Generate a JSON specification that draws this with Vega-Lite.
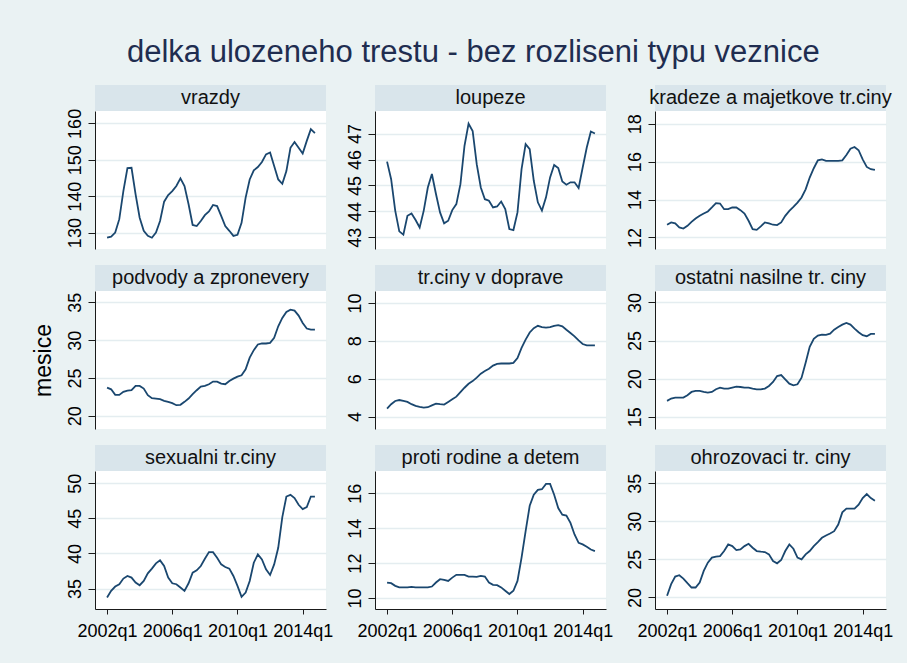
{
"$schema": "https://vega.github.io/schema/vega-lite/v6.json",
"background": "#EAF2F3",
"padding": {"left": 32, "top": 37, "right": 14, "bottom": 23},
"title": {"text": "delka ulozeneho trestu - bez rozliseni typu veznice", "font": "Liberation Sans", "fontSize": 31, "fontWeight": "normal", "color": "#1F2D50", "anchor": "middle", "offset": 16, "dx": 11},
"datasets": {"d": [
{"s":"vrazdy","t":2002,"v":128.6},{"s":"vrazdy","t":2002.25,"v":128.9},{"s":"vrazdy","t":2002.5,"v":130},{"s":"vrazdy","t":2002.75,"v":133.7},{"s":"vrazdy","t":2003,"v":141.4},{"s":"vrazdy","t":2003.25,"v":147.7},{"s":"vrazdy","t":2003.5,"v":147.8},{"s":"vrazdy","t":2003.75,"v":140.5},{"s":"vrazdy","t":2004,"v":134.1},{"s":"vrazdy","t":2004.25,"v":130.5},{"s":"vrazdy","t":2004.5,"v":129.1},{"s":"vrazdy","t":2004.75,"v":128.6},{"s":"vrazdy","t":2005,"v":130},{"s":"vrazdy","t":2005.25,"v":133.2},{"s":"vrazdy","t":2005.5,"v":138.5},{"s":"vrazdy","t":2005.75,"v":140.3},{"s":"vrazdy","t":2006,"v":141.4},{"s":"vrazdy","t":2006.25,"v":142.8},{"s":"vrazdy","t":2006.5,"v":144.9},{"s":"vrazdy","t":2006.75,"v":142.8},{"s":"vrazdy","t":2007,"v":137.8},{"s":"vrazdy","t":2007.25,"v":132.1},{"s":"vrazdy","t":2007.5,"v":131.8},{"s":"vrazdy","t":2007.75,"v":133.2},{"s":"vrazdy","t":2008,"v":134.8},{"s":"vrazdy","t":2008.25,"v":135.8},{"s":"vrazdy","t":2008.5,"v":137.6},{"s":"vrazdy","t":2008.75,"v":137.3},{"s":"vrazdy","t":2009,"v":134.6},{"s":"vrazdy","t":2009.25,"v":131.8},{"s":"vrazdy","t":2009.5,"v":130.5},{"s":"vrazdy","t":2009.75,"v":129.1},{"s":"vrazdy","t":2010,"v":129.4},{"s":"vrazdy","t":2010.25,"v":132.7},{"s":"vrazdy","t":2010.5,"v":139.6},{"s":"vrazdy","t":2010.75,"v":144.6},{"s":"vrazdy","t":2011,"v":147.1},{"s":"vrazdy","t":2011.25,"v":148},{"s":"vrazdy","t":2011.5,"v":149.4},{"s":"vrazdy","t":2011.75,"v":151.5},{"s":"vrazdy","t":2012,"v":152},{"s":"vrazdy","t":2012.25,"v":148.3},{"s":"vrazdy","t":2012.5,"v":144.6},{"s":"vrazdy","t":2012.75,"v":143.4},{"s":"vrazdy","t":2013,"v":146.9},{"s":"vrazdy","t":2013.25,"v":153.3},{"s":"vrazdy","t":2013.5,"v":154.9},{"s":"vrazdy","t":2013.75,"v":153.3},{"s":"vrazdy","t":2014,"v":151.7},{"s":"vrazdy","t":2014.25,"v":155.2},{"s":"vrazdy","t":2014.5,"v":158.4},{"s":"vrazdy","t":2014.75,"v":157.3},
{"s":"loupeze","t":2002,"v":45.92},{"s":"loupeze","t":2002.25,"v":45.24},{"s":"loupeze","t":2002.5,"v":44.03},{"s":"loupeze","t":2002.75,"v":43.23},{"s":"loupeze","t":2003,"v":43.1},{"s":"loupeze","t":2003.25,"v":43.83},{"s":"loupeze","t":2003.5,"v":43.92},{"s":"loupeze","t":2003.75,"v":43.67},{"s":"loupeze","t":2004,"v":43.38},{"s":"loupeze","t":2004.25,"v":44.03},{"s":"loupeze","t":2004.5,"v":44.92},{"s":"loupeze","t":2004.75,"v":45.44},{"s":"loupeze","t":2005,"v":44.67},{"s":"loupeze","t":2005.25,"v":43.96},{"s":"loupeze","t":2005.5,"v":43.54},{"s":"loupeze","t":2005.75,"v":43.64},{"s":"loupeze","t":2006,"v":44.05},{"s":"loupeze","t":2006.25,"v":44.28},{"s":"loupeze","t":2006.5,"v":45.05},{"s":"loupeze","t":2006.75,"v":46.53},{"s":"loupeze","t":2007,"v":47.38},{"s":"loupeze","t":2007.25,"v":47.1},{"s":"loupeze","t":2007.5,"v":45.82},{"s":"loupeze","t":2007.75,"v":44.92},{"s":"loupeze","t":2008,"v":44.47},{"s":"loupeze","t":2008.25,"v":44.41},{"s":"loupeze","t":2008.5,"v":44.15},{"s":"loupeze","t":2008.75,"v":44.19},{"s":"loupeze","t":2009,"v":44.38},{"s":"loupeze","t":2009.25,"v":44.09},{"s":"loupeze","t":2009.5,"v":43.32},{"s":"loupeze","t":2009.75,"v":43.28},{"s":"loupeze","t":2010,"v":43.96},{"s":"loupeze","t":2010.25,"v":45.63},{"s":"loupeze","t":2010.5,"v":46.59},{"s":"loupeze","t":2010.75,"v":46.4},{"s":"loupeze","t":2011,"v":45.18},{"s":"loupeze","t":2011.25,"v":44.35},{"s":"loupeze","t":2011.5,"v":44.03},{"s":"loupeze","t":2011.75,"v":44.54},{"s":"loupeze","t":2012,"v":45.31},{"s":"loupeze","t":2012.25,"v":45.79},{"s":"loupeze","t":2012.5,"v":45.67},{"s":"loupeze","t":2012.75,"v":45.15},{"s":"loupeze","t":2013,"v":45.03},{"s":"loupeze","t":2013.25,"v":45.12},{"s":"loupeze","t":2013.5,"v":45.12},{"s":"loupeze","t":2013.75,"v":44.9},{"s":"loupeze","t":2014,"v":45.69},{"s":"loupeze","t":2014.25,"v":46.46},{"s":"loupeze","t":2014.5,"v":47.08},{"s":"loupeze","t":2014.75,"v":47.0},
{"s":"kradeze","t":2002,"v":12.67},{"s":"kradeze","t":2002.25,"v":12.79},{"s":"kradeze","t":2002.5,"v":12.74},{"s":"kradeze","t":2002.75,"v":12.53},{"s":"kradeze","t":2003,"v":12.47},{"s":"kradeze","t":2003.25,"v":12.61},{"s":"kradeze","t":2003.5,"v":12.82},{"s":"kradeze","t":2003.75,"v":13.0},{"s":"kradeze","t":2004,"v":13.14},{"s":"kradeze","t":2004.25,"v":13.26},{"s":"kradeze","t":2004.5,"v":13.37},{"s":"kradeze","t":2004.75,"v":13.58},{"s":"kradeze","t":2005,"v":13.81},{"s":"kradeze","t":2005.25,"v":13.79},{"s":"kradeze","t":2005.5,"v":13.49},{"s":"kradeze","t":2005.75,"v":13.49},{"s":"kradeze","t":2006,"v":13.58},{"s":"kradeze","t":2006.25,"v":13.58},{"s":"kradeze","t":2006.5,"v":13.44},{"s":"kradeze","t":2006.75,"v":13.26},{"s":"kradeze","t":2007,"v":12.88},{"s":"kradeze","t":2007.25,"v":12.44},{"s":"kradeze","t":2007.5,"v":12.4},{"s":"kradeze","t":2007.75,"v":12.58},{"s":"kradeze","t":2008,"v":12.79},{"s":"kradeze","t":2008.25,"v":12.74},{"s":"kradeze","t":2008.5,"v":12.67},{"s":"kradeze","t":2008.75,"v":12.65},{"s":"kradeze","t":2009,"v":12.79},{"s":"kradeze","t":2009.25,"v":13.14},{"s":"kradeze","t":2009.5,"v":13.4},{"s":"kradeze","t":2009.75,"v":13.61},{"s":"kradeze","t":2010,"v":13.84},{"s":"kradeze","t":2010.25,"v":14.11},{"s":"kradeze","t":2010.5,"v":14.54},{"s":"kradeze","t":2010.75,"v":15.16},{"s":"kradeze","t":2011,"v":15.65},{"s":"kradeze","t":2011.25,"v":16.07},{"s":"kradeze","t":2011.5,"v":16.12},{"s":"kradeze","t":2011.75,"v":16.04},{"s":"kradeze","t":2012,"v":16.04},{"s":"kradeze","t":2012.25,"v":16.04},{"s":"kradeze","t":2012.5,"v":16.04},{"s":"kradeze","t":2012.75,"v":16.07},{"s":"kradeze","t":2013,"v":16.35},{"s":"kradeze","t":2013.25,"v":16.68},{"s":"kradeze","t":2013.5,"v":16.77},{"s":"kradeze","t":2013.75,"v":16.6},{"s":"kradeze","t":2014,"v":16.12},{"s":"kradeze","t":2014.25,"v":15.72},{"s":"kradeze","t":2014.5,"v":15.6},{"s":"kradeze","t":2014.75,"v":15.56},
{"s":"podvody","t":2002,"v":23.73},{"s":"podvody","t":2002.25,"v":23.5},{"s":"podvody","t":2002.5,"v":22.76},{"s":"podvody","t":2002.75,"v":22.76},{"s":"podvody","t":2003,"v":23.16},{"s":"podvody","t":2003.25,"v":23.33},{"s":"podvody","t":2003.5,"v":23.38},{"s":"podvody","t":2003.75,"v":23.95},{"s":"podvody","t":2004,"v":23.95},{"s":"podvody","t":2004.25,"v":23.6},{"s":"podvody","t":2004.5,"v":22.72},{"s":"podvody","t":2004.75,"v":22.32},{"s":"podvody","t":2005,"v":22.28},{"s":"podvody","t":2005.25,"v":22.19},{"s":"podvody","t":2005.5,"v":21.97},{"s":"podvody","t":2005.75,"v":21.84},{"s":"podvody","t":2006,"v":21.67},{"s":"podvody","t":2006.25,"v":21.4},{"s":"podvody","t":2006.5,"v":21.45},{"s":"podvody","t":2006.75,"v":21.84},{"s":"podvody","t":2007,"v":22.28},{"s":"podvody","t":2007.25,"v":22.85},{"s":"podvody","t":2007.5,"v":23.38},{"s":"podvody","t":2007.75,"v":23.86},{"s":"podvody","t":2008,"v":23.95},{"s":"podvody","t":2008.25,"v":24.17},{"s":"podvody","t":2008.5,"v":24.52},{"s":"podvody","t":2008.75,"v":24.52},{"s":"podvody","t":2009,"v":24.25},{"s":"podvody","t":2009.25,"v":24.17},{"s":"podvody","t":2009.5,"v":24.6},{"s":"podvody","t":2009.75,"v":24.91},{"s":"podvody","t":2010,"v":25.18},{"s":"podvody","t":2010.25,"v":25.35},{"s":"podvody","t":2010.5,"v":26.14},{"s":"podvody","t":2010.75,"v":27.68},{"s":"podvody","t":2011,"v":28.68},{"s":"podvody","t":2011.25,"v":29.43},{"s":"podvody","t":2011.5,"v":29.56},{"s":"podvody","t":2011.75,"v":29.56},{"s":"podvody","t":2012,"v":29.65},{"s":"podvody","t":2012.25,"v":30.31},{"s":"podvody","t":2012.5,"v":31.84},{"s":"podvody","t":2012.75,"v":32.94},{"s":"podvody","t":2013,"v":33.73},{"s":"podvody","t":2013.25,"v":34.04},{"s":"podvody","t":2013.5,"v":33.9},{"s":"podvody","t":2013.75,"v":33.25},{"s":"podvody","t":2014,"v":32.28},{"s":"podvody","t":2014.25,"v":31.54},{"s":"podvody","t":2014.5,"v":31.4},{"s":"podvody","t":2014.75,"v":31.4},
{"s":"doprave","t":2002,"v":4.42},{"s":"doprave","t":2002.25,"v":4.65},{"s":"doprave","t":2002.5,"v":4.82},{"s":"doprave","t":2002.75,"v":4.87},{"s":"doprave","t":2003,"v":4.82},{"s":"doprave","t":2003.25,"v":4.77},{"s":"doprave","t":2003.5,"v":4.65},{"s":"doprave","t":2003.75,"v":4.56},{"s":"doprave","t":2004,"v":4.51},{"s":"doprave","t":2004.25,"v":4.47},{"s":"doprave","t":2004.5,"v":4.49},{"s":"doprave","t":2004.75,"v":4.59},{"s":"doprave","t":2005,"v":4.68},{"s":"doprave","t":2005.25,"v":4.65},{"s":"doprave","t":2005.5,"v":4.63},{"s":"doprave","t":2005.75,"v":4.77},{"s":"doprave","t":2006,"v":4.91},{"s":"doprave","t":2006.25,"v":5.05},{"s":"doprave","t":2006.5,"v":5.29},{"s":"doprave","t":2006.75,"v":5.52},{"s":"doprave","t":2007,"v":5.73},{"s":"doprave","t":2007.25,"v":5.87},{"s":"doprave","t":2007.5,"v":6.05},{"s":"doprave","t":2007.75,"v":6.26},{"s":"doprave","t":2008,"v":6.4},{"s":"doprave","t":2008.25,"v":6.52},{"s":"doprave","t":2008.5,"v":6.69},{"s":"doprave","t":2008.75,"v":6.78},{"s":"doprave","t":2009,"v":6.8},{"s":"doprave","t":2009.25,"v":6.8},{"s":"doprave","t":2009.5,"v":6.8},{"s":"doprave","t":2009.75,"v":6.83},{"s":"doprave","t":2010,"v":7.09},{"s":"doprave","t":2010.25,"v":7.62},{"s":"doprave","t":2010.5,"v":8.06},{"s":"doprave","t":2010.75,"v":8.44},{"s":"doprave","t":2011,"v":8.67},{"s":"doprave","t":2011.25,"v":8.79},{"s":"doprave","t":2011.5,"v":8.72},{"s":"doprave","t":2011.75,"v":8.7},{"s":"doprave","t":2012,"v":8.72},{"s":"doprave","t":2012.25,"v":8.79},{"s":"doprave","t":2012.5,"v":8.83},{"s":"doprave","t":2012.75,"v":8.76},{"s":"doprave","t":2013,"v":8.58},{"s":"doprave","t":2013.25,"v":8.41},{"s":"doprave","t":2013.5,"v":8.23},{"s":"doprave","t":2013.75,"v":8.02},{"s":"doprave","t":2014,"v":7.83},{"s":"doprave","t":2014.25,"v":7.76},{"s":"doprave","t":2014.5,"v":7.76},{"s":"doprave","t":2014.75,"v":7.76},
{"s":"ostatni","t":2002,"v":17.09},{"s":"ostatni","t":2002.25,"v":17.39},{"s":"ostatni","t":2002.5,"v":17.52},{"s":"ostatni","t":2002.75,"v":17.52},{"s":"ostatni","t":2003,"v":17.52},{"s":"ostatni","t":2003.25,"v":17.83},{"s":"ostatni","t":2003.5,"v":18.26},{"s":"ostatni","t":2003.75,"v":18.39},{"s":"ostatni","t":2004,"v":18.39},{"s":"ostatni","t":2004.25,"v":18.26},{"s":"ostatni","t":2004.5,"v":18.17},{"s":"ostatni","t":2004.75,"v":18.26},{"s":"ostatni","t":2005,"v":18.61},{"s":"ostatni","t":2005.25,"v":18.83},{"s":"ostatni","t":2005.5,"v":18.7},{"s":"ostatni","t":2005.75,"v":18.7},{"s":"ostatni","t":2006,"v":18.83},{"s":"ostatni","t":2006.25,"v":18.96},{"s":"ostatni","t":2006.5,"v":18.91},{"s":"ostatni","t":2006.75,"v":18.83},{"s":"ostatni","t":2007,"v":18.83},{"s":"ostatni","t":2007.25,"v":18.7},{"s":"ostatni","t":2007.5,"v":18.61},{"s":"ostatni","t":2007.75,"v":18.61},{"s":"ostatni","t":2008,"v":18.7},{"s":"ostatni","t":2008.25,"v":19.04},{"s":"ostatni","t":2008.5,"v":19.57},{"s":"ostatni","t":2008.75,"v":20.35},{"s":"ostatni","t":2009,"v":20.48},{"s":"ostatni","t":2009.25,"v":19.91},{"s":"ostatni","t":2009.5,"v":19.35},{"s":"ostatni","t":2009.75,"v":19.13},{"s":"ostatni","t":2010,"v":19.26},{"s":"ostatni","t":2010.25,"v":20.13},{"s":"ostatni","t":2010.5,"v":22.09},{"s":"ostatni","t":2010.75,"v":24.17},{"s":"ostatni","t":2011,"v":25.22},{"s":"ostatni","t":2011.25,"v":25.65},{"s":"ostatni","t":2011.5,"v":25.78},{"s":"ostatni","t":2011.75,"v":25.74},{"s":"ostatni","t":2012,"v":25.91},{"s":"ostatni","t":2012.25,"v":26.43},{"s":"ostatni","t":2012.5,"v":26.78},{"s":"ostatni","t":2012.75,"v":27.09},{"s":"ostatni","t":2013,"v":27.3},{"s":"ostatni","t":2013.25,"v":27.09},{"s":"ostatni","t":2013.5,"v":26.57},{"s":"ostatni","t":2013.75,"v":26.09},{"s":"ostatni","t":2014,"v":25.7},{"s":"ostatni","t":2014.25,"v":25.57},{"s":"ostatni","t":2014.5,"v":25.87},{"s":"ostatni","t":2014.75,"v":25.87},
{"s":"sexualni","t":2002,"v":33.73},{"s":"sexualni","t":2002.25,"v":34.67},{"s":"sexualni","t":2002.5,"v":35.28},{"s":"sexualni","t":2002.75,"v":35.61},{"s":"sexualni","t":2003,"v":36.42},{"s":"sexualni","t":2003.25,"v":36.79},{"s":"sexualni","t":2003.5,"v":36.56},{"s":"sexualni","t":2003.75,"v":35.85},{"s":"sexualni","t":2004,"v":35.47},{"s":"sexualni","t":2004.25,"v":36.08},{"s":"sexualni","t":2004.5,"v":37.17},{"s":"sexualni","t":2004.75,"v":37.83},{"s":"sexualni","t":2005,"v":38.58},{"s":"sexualni","t":2005.25,"v":39.01},{"s":"sexualni","t":2005.5,"v":38.21},{"s":"sexualni","t":2005.75,"v":36.56},{"s":"sexualni","t":2006,"v":35.75},{"s":"sexualni","t":2006.25,"v":35.61},{"s":"sexualni","t":2006.5,"v":35.14},{"s":"sexualni","t":2006.75,"v":34.67},{"s":"sexualni","t":2007,"v":35.75},{"s":"sexualni","t":2007.25,"v":37.26},{"s":"sexualni","t":2007.5,"v":37.59},{"s":"sexualni","t":2007.75,"v":38.21},{"s":"sexualni","t":2008,"v":39.25},{"s":"sexualni","t":2008.25,"v":40.19},{"s":"sexualni","t":2008.5,"v":40.19},{"s":"sexualni","t":2008.75,"v":39.39},{"s":"sexualni","t":2009,"v":38.44},{"s":"sexualni","t":2009.25,"v":38.07},{"s":"sexualni","t":2009.5,"v":37.83},{"s":"sexualni","t":2009.75,"v":36.79},{"s":"sexualni","t":2010,"v":35.38},{"s":"sexualni","t":2010.25,"v":33.82},{"s":"sexualni","t":2010.5,"v":34.43},{"s":"sexualni","t":2010.75,"v":36.08},{"s":"sexualni","t":2011,"v":38.68},{"s":"sexualni","t":2011.25,"v":39.86},{"s":"sexualni","t":2011.5,"v":39.15},{"s":"sexualni","t":2011.75,"v":37.74},{"s":"sexualni","t":2012,"v":36.93},{"s":"sexualni","t":2012.25,"v":38.44},{"s":"sexualni","t":2012.5,"v":40.8},{"s":"sexualni","t":2012.75,"v":45.19},{"s":"sexualni","t":2013,"v":48.11},{"s":"sexualni","t":2013.25,"v":48.35},{"s":"sexualni","t":2013.5,"v":47.88},{"s":"sexualni","t":2013.75,"v":46.93},{"s":"sexualni","t":2014,"v":46.32},{"s":"sexualni","t":2014.25,"v":46.6},{"s":"sexualni","t":2014.5,"v":48.11},{"s":"sexualni","t":2014.75,"v":48.11},
{"s":"proti","t":2002,"v":10.89},{"s":"proti","t":2002.25,"v":10.85},{"s":"proti","t":2002.5,"v":10.7},{"s":"proti","t":2002.75,"v":10.61},{"s":"proti","t":2003,"v":10.61},{"s":"proti","t":2003.25,"v":10.61},{"s":"proti","t":2003.5,"v":10.64},{"s":"proti","t":2003.75,"v":10.61},{"s":"proti","t":2004,"v":10.61},{"s":"proti","t":2004.25,"v":10.61},{"s":"proti","t":2004.5,"v":10.61},{"s":"proti","t":2004.75,"v":10.66},{"s":"proti","t":2005,"v":10.89},{"s":"proti","t":2005.25,"v":11.08},{"s":"proti","t":2005.5,"v":11.04},{"s":"proti","t":2005.75,"v":10.98},{"s":"proti","t":2006,"v":11.17},{"s":"proti","t":2006.25,"v":11.33},{"s":"proti","t":2006.5,"v":11.33},{"s":"proti","t":2006.75,"v":11.33},{"s":"proti","t":2007,"v":11.23},{"s":"proti","t":2007.25,"v":11.23},{"s":"proti","t":2007.5,"v":11.21},{"s":"proti","t":2007.75,"v":11.27},{"s":"proti","t":2008,"v":11.23},{"s":"proti","t":2008.25,"v":10.89},{"s":"proti","t":2008.5,"v":10.76},{"s":"proti","t":2008.75,"v":10.74},{"s":"proti","t":2009,"v":10.61},{"s":"proti","t":2009.25,"v":10.42},{"s":"proti","t":2009.5,"v":10.23},{"s":"proti","t":2009.75,"v":10.42},{"s":"proti","t":2010,"v":10.98},{"s":"proti","t":2010.25,"v":12.31},{"s":"proti","t":2010.5,"v":13.83},{"s":"proti","t":2010.75,"v":15.28},{"s":"proti","t":2011,"v":15.91},{"s":"proti","t":2011.25,"v":16.19},{"s":"proti","t":2011.5,"v":16.23},{"s":"proti","t":2011.75,"v":16.53},{"s":"proti","t":2012,"v":16.53},{"s":"proti","t":2012.25,"v":15.91},{"s":"proti","t":2012.5,"v":15.15},{"s":"proti","t":2012.75,"v":14.77},{"s":"proti","t":2013,"v":14.72},{"s":"proti","t":2013.25,"v":14.3},{"s":"proti","t":2013.5,"v":13.64},{"s":"proti","t":2013.75,"v":13.16},{"s":"proti","t":2014,"v":13.07},{"s":"proti","t":2014.25,"v":12.94},{"s":"proti","t":2014.5,"v":12.78},{"s":"proti","t":2014.75,"v":12.69},
{"s":"ohrozovaci","t":2002,"v":20.22},{"s":"ohrozovaci","t":2002.25,"v":21.74},{"s":"ohrozovaci","t":2002.5,"v":22.74},{"s":"ohrozovaci","t":2002.75,"v":22.91},{"s":"ohrozovaci","t":2003,"v":22.48},{"s":"ohrozovaci","t":2003.25,"v":21.87},{"s":"ohrozovaci","t":2003.5,"v":21.3},{"s":"ohrozovaci","t":2003.75,"v":21.3},{"s":"ohrozovaci","t":2004,"v":21.96},{"s":"ohrozovaci","t":2004.25,"v":23.48},{"s":"ohrozovaci","t":2004.5,"v":24.57},{"s":"ohrozovaci","t":2004.75,"v":25.22},{"s":"ohrozovaci","t":2005,"v":25.35},{"s":"ohrozovaci","t":2005.25,"v":25.43},{"s":"ohrozovaci","t":2005.5,"v":26.09},{"s":"ohrozovaci","t":2005.75,"v":26.96},{"s":"ohrozovaci","t":2006,"v":26.74},{"s":"ohrozovaci","t":2006.25,"v":26.22},{"s":"ohrozovaci","t":2006.5,"v":26.3},{"s":"ohrozovaci","t":2006.75,"v":26.74},{"s":"ohrozovaci","t":2007,"v":27.04},{"s":"ohrozovaci","t":2007.25,"v":26.52},{"s":"ohrozovaci","t":2007.5,"v":26.09},{"s":"ohrozovaci","t":2007.75,"v":26.0},{"s":"ohrozovaci","t":2008,"v":25.96},{"s":"ohrozovaci","t":2008.25,"v":25.65},{"s":"ohrozovaci","t":2008.5,"v":24.78},{"s":"ohrozovaci","t":2008.75,"v":24.48},{"s":"ohrozovaci","t":2009,"v":24.91},{"s":"ohrozovaci","t":2009.25,"v":26.09},{"s":"ohrozovaci","t":2009.5,"v":26.96},{"s":"ohrozovaci","t":2009.75,"v":26.39},{"s":"ohrozovaci","t":2010,"v":25.22},{"s":"ohrozovaci","t":2010.25,"v":25.0},{"s":"ohrozovaci","t":2010.5,"v":25.65},{"s":"ohrozovaci","t":2010.75,"v":26.09},{"s":"ohrozovaci","t":2011,"v":26.74},{"s":"ohrozovaci","t":2011.25,"v":27.26},{"s":"ohrozovaci","t":2011.5,"v":27.83},{"s":"ohrozovaci","t":2011.75,"v":28.13},{"s":"ohrozovaci","t":2012,"v":28.39},{"s":"ohrozovaci","t":2012.25,"v":28.7},{"s":"ohrozovaci","t":2012.5,"v":29.57},{"s":"ohrozovaci","t":2012.75,"v":31.17},{"s":"ohrozovaci","t":2013,"v":31.65},{"s":"ohrozovaci","t":2013.25,"v":31.65},{"s":"ohrozovaci","t":2013.5,"v":31.65},{"s":"ohrozovaci","t":2013.75,"v":32.17},{"s":"ohrozovaci","t":2014,"v":33.04},{"s":"ohrozovaci","t":2014.25,"v":33.57},{"s":"ohrozovaci","t":2014.5,"v":33.04},{"s":"ohrozovaci","t":2014.75,"v":32.7}
]},
"columns": 3,
"spacing": {"row": 16, "column": 13},
"resolve": {"scale": {"x": "independent", "y": "independent"}},
"concat": [
{"bounds": "flush", "spacing": 0, "vconcat": [
 {"width": 231, "height": 26, "view": {"fill": "#D9E5EB", "stroke": null}, "data": {"values": [{"name": "vrazdy"}]}, "mark": {"type": "text", "fontSize": 20, "font": "Liberation Sans", "color": "#111111", "baseline": "middle"}, "encoding": {"text": {"field": "name"}}},
 {"width": 231, "height": 138, "view": {"fill": "#FFFFFF", "stroke": null}, "data": {"name": "d"}, "transform": [{"filter": "datum.s == 'vrazdy'"}], "mark": {"type": "line", "color": "#1A476F", "strokeWidth": 1.8},
  "encoding": {"x": {"field": "t", "type": "quantitative", "scale": {"domain": [2001.26, 2015.43], "nice": false, "zero": false}, "axis": null},
   "y": {"field": "v", "type": "quantitative", "scale": {"domain": [125.5, 163.4], "nice": false, "zero": false}, "axis": {"values": [130, 140, 150, 160], "title": "mesice", "titleOpacity": 0}}}}
]},
{"bounds": "flush", "spacing": 0, "vconcat": [
 {"width": 231, "height": 26, "view": {"fill": "#D9E5EB", "stroke": null}, "data": {"values": [{"name": "loupeze"}]}, "mark": {"type": "text", "fontSize": 20, "font": "Liberation Sans", "color": "#111111", "baseline": "middle"}, "encoding": {"text": {"field": "name"}}},
 {"width": 231, "height": 138, "view": {"fill": "#FFFFFF", "stroke": null}, "data": {"name": "d"}, "transform": [{"filter": "datum.s == 'loupeze'"}], "mark": {"type": "line", "color": "#1A476F", "strokeWidth": 1.8},
  "encoding": {"x": {"field": "t", "type": "quantitative", "scale": {"domain": [2001.26, 2015.43], "nice": false, "zero": false}, "axis": null},
   "y": {"field": "v", "type": "quantitative", "scale": {"domain": [42.55, 47.87], "nice": false, "zero": false}, "axis": {"values": [43, 44, 45, 46, 47], "title": null}}}}
]},
{"bounds": "flush", "spacing": 0, "vconcat": [
 {"width": 231, "height": 26, "view": {"fill": "#D9E5EB", "stroke": null}, "data": {"values": [{"name": "kradeze a majetkove tr.ciny"}]}, "mark": {"type": "text", "fontSize": 20, "font": "Liberation Sans", "color": "#111111", "baseline": "middle"}, "encoding": {"text": {"field": "name"}}},
 {"width": 231, "height": 138, "view": {"fill": "#FFFFFF", "stroke": null}, "data": {"name": "d"}, "transform": [{"filter": "datum.s == 'kradeze'"}], "mark": {"type": "line", "color": "#1A476F", "strokeWidth": 1.8},
  "encoding": {"x": {"field": "t", "type": "quantitative", "scale": {"domain": [2001.26, 2015.43], "nice": false, "zero": false}, "axis": null},
   "y": {"field": "v", "type": "quantitative", "scale": {"domain": [11.39, 18.67], "nice": false, "zero": false}, "axis": {"values": [12, 14, 16, 18], "title": null}}}}
]},
{"bounds": "flush", "spacing": 0, "vconcat": [
 {"width": 231, "height": 26, "view": {"fill": "#D9E5EB", "stroke": null}, "data": {"values": [{"name": "podvody a zpronevery"}]}, "mark": {"type": "text", "fontSize": 20, "font": "Liberation Sans", "color": "#111111", "baseline": "middle"}, "encoding": {"text": {"field": "name"}}},
 {"width": 231, "height": 138, "view": {"fill": "#FFFFFF", "stroke": null}, "data": {"name": "d"}, "transform": [{"filter": "datum.s == 'podvody'"}], "mark": {"type": "line", "color": "#1A476F", "strokeWidth": 1.8},
  "encoding": {"x": {"field": "t", "type": "quantitative", "scale": {"domain": [2001.26, 2015.43], "nice": false, "zero": false}, "axis": null},
   "y": {"field": "v", "type": "quantitative", "scale": {"domain": [18.25, 36.5], "nice": false, "zero": false}, "axis": {"values": [20, 25, 30, 35], "title": "mesice"}}}}
]},
{"bounds": "flush", "spacing": 0, "vconcat": [
 {"width": 231, "height": 26, "view": {"fill": "#D9E5EB", "stroke": null}, "data": {"values": [{"name": "tr.ciny v doprave"}]}, "mark": {"type": "text", "fontSize": 20, "font": "Liberation Sans", "color": "#111111", "baseline": "middle"}, "encoding": {"text": {"field": "name"}}},
 {"width": 231, "height": 138, "view": {"fill": "#FFFFFF", "stroke": null}, "data": {"name": "d"}, "transform": [{"filter": "datum.s == 'doprave'"}], "mark": {"type": "line", "color": "#1A476F", "strokeWidth": 1.8},
  "encoding": {"x": {"field": "t", "type": "quantitative", "scale": {"domain": [2001.26, 2015.43], "nice": false, "zero": false}, "axis": null},
   "y": {"field": "v", "type": "quantitative", "scale": {"domain": [3.34, 10.63], "nice": false, "zero": false}, "axis": {"values": [4, 6, 8, 10], "title": null}}}}
]},
{"bounds": "flush", "spacing": 0, "vconcat": [
 {"width": 231, "height": 26, "view": {"fill": "#D9E5EB", "stroke": null}, "data": {"values": [{"name": "ostatni nasilne tr. ciny"}]}, "mark": {"type": "text", "fontSize": 20, "font": "Liberation Sans", "color": "#111111", "baseline": "middle"}, "encoding": {"text": {"field": "name"}}},
 {"width": 231, "height": 138, "view": {"fill": "#FFFFFF", "stroke": null}, "data": {"name": "d"}, "transform": [{"filter": "datum.s == 'ostatni'"}], "mark": {"type": "line", "color": "#1A476F", "strokeWidth": 1.8},
  "encoding": {"x": {"field": "t", "type": "quantitative", "scale": {"domain": [2001.26, 2015.43], "nice": false, "zero": false}, "axis": null},
   "y": {"field": "v", "type": "quantitative", "scale": {"domain": [13.4, 31.5], "nice": false, "zero": false}, "axis": {"values": [15, 20, 25, 30], "title": null}}}}
]},
{"bounds": "flush", "spacing": 0, "vconcat": [
 {"width": 231, "height": 26, "view": {"fill": "#D9E5EB", "stroke": null}, "data": {"values": [{"name": "sexualni tr.ciny"}]}, "mark": {"type": "text", "fontSize": 20, "font": "Liberation Sans", "color": "#111111", "baseline": "middle"}, "encoding": {"text": {"field": "name"}}},
 {"width": 231, "height": 138, "view": {"fill": "#FFFFFF", "stroke": null}, "data": {"name": "d"}, "transform": [{"filter": "datum.s == 'sexualni'"}], "mark": {"type": "line", "color": "#1A476F", "strokeWidth": 1.8},
  "encoding": {"x": {"field": "t", "type": "quantitative", "scale": {"domain": [2001.26, 2015.43], "nice": false, "zero": false}, "axis": {"values": [2002, 2006, 2010, 2014], "labelExpr": "datum.value + 'q1'", "title": null}},
   "y": {"field": "v", "type": "quantitative", "scale": {"domain": [32.08, 51.75], "nice": false, "zero": false}, "axis": {"values": [35, 40, 45, 50], "title": "mesice", "titleOpacity": 0}}}}
]},
{"bounds": "flush", "spacing": 0, "vconcat": [
 {"width": 231, "height": 26, "view": {"fill": "#D9E5EB", "stroke": null}, "data": {"values": [{"name": "proti rodine a detem"}]}, "mark": {"type": "text", "fontSize": 20, "font": "Liberation Sans", "color": "#111111", "baseline": "middle"}, "encoding": {"text": {"field": "name"}}},
 {"width": 231, "height": 138, "view": {"fill": "#FFFFFF", "stroke": null}, "data": {"name": "d"}, "transform": [{"filter": "datum.s == 'proti'"}], "mark": {"type": "line", "color": "#1A476F", "strokeWidth": 1.8},
  "encoding": {"x": {"field": "t", "type": "quantitative", "scale": {"domain": [2001.26, 2015.43], "nice": false, "zero": false}, "axis": {"values": [2002, 2006, 2010, 2014], "labelExpr": "datum.value + 'q1'", "title": null}},
   "y": {"field": "v", "type": "quantitative", "scale": {"domain": [9.375, 17.27], "nice": false, "zero": false}, "axis": {"values": [10, 12, 14, 16], "title": null}}}}
]},
{"bounds": "flush", "spacing": 0, "vconcat": [
 {"width": 231, "height": 26, "view": {"fill": "#D9E5EB", "stroke": null}, "data": {"values": [{"name": "ohrozovaci tr. ciny"}]}, "mark": {"type": "text", "fontSize": 20, "font": "Liberation Sans", "color": "#111111", "baseline": "middle"}, "encoding": {"text": {"field": "name"}}},
 {"width": 231, "height": 138, "view": {"fill": "#FFFFFF", "stroke": null}, "data": {"name": "d"}, "transform": [{"filter": "datum.s == 'ohrozovaci'"}], "mark": {"type": "line", "color": "#1A476F", "strokeWidth": 1.8},
  "encoding": {"x": {"field": "t", "type": "quantitative", "scale": {"domain": [2001.26, 2015.43], "nice": false, "zero": false}, "axis": {"values": [2002, 2006, 2010, 2014], "labelExpr": "datum.value + 'q1'", "title": null}},
   "y": {"field": "v", "type": "quantitative", "scale": {"domain": [18.48, 36.6], "nice": false, "zero": false}, "axis": {"values": [20, 25, 30, 35], "title": null}}}}
]}
],
"config": {
 "font": "Liberation Sans",
 "view": {"stroke": null},
 "axis": {"labelFont": "Liberation Sans", "labelFontSize": 18, "labelColor": "#000000", "domainColor": "#1A1A1A", "tickColor": "#1A1A1A", "domainWidth": 1, "tickWidth": 1, "tickSize": 7, "labelOverlap": false, "labelFlush": false, "labelBound": false, "titleFont": "Liberation Sans", "titleFontSize": 23, "titleFontWeight": "normal", "titleColor": "#000000"},
 "axisY": {"labelAngle": -90, "labelAlign": "center", "labelBaseline": "alphabetic", "labelPadding": 8, "grid": true, "gridColor": "#E4EDF0", "gridWidth": 1.5, "titlePadding": 11},
 "axisX": {"grid": false, "tickSize": 5, "labelPadding": 8}
}
}
